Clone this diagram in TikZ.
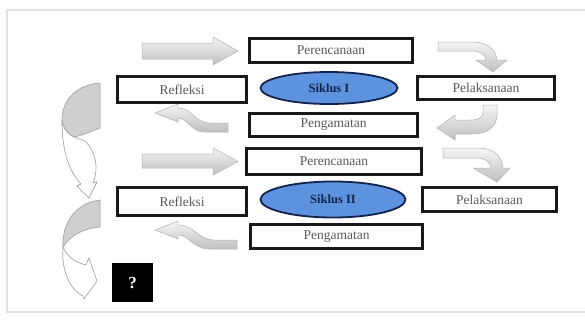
\documentclass[tikz,border=0pt]{standalone}
\usepackage{fontspec}
\setmainfont{Liberation Serif}
\usetikzlibrary{shapes.geometric}
\begin{document}
\begin{tikzpicture}[x=1pt,y=-1pt,
  box/.style={draw=black!90, line width=2.2pt, fill=white, inner sep=0pt,
    font=\fontsize{13.5}{13.5}\selectfont, text=black!65},
  cyclenode/.style={ellipse, draw={rgb,255:red,20;green,35;blue,75}, line width=1.8pt,
    fill={rgb,255:red,92;green,146;blue,222}, inner sep=0pt,
    font=\bfseries\fontsize{12.5}{12.5}\selectfont, text={rgb,255:red,20;green,35;blue,75}},
  garrow/.style={draw=gray!60, line width=0.5pt, top color=gray!8, bottom color=gray!50},
  bigarrow/.style={draw=gray!70, line width=0.7pt},
  backface/.style={bigarrow, fill=gray!38},
  frontface/.style={bigarrow, fill=white}]
\useasboundingbox (0,0) rectangle (585,322);
\fill[white] (0,0) rectangle (585,322);
\draw[gray!22, line width=1.6pt] (600,10) -- (7,10) -- (7,312) -- (600,312);

% boxes
\node[box, minimum width=163pt, minimum height=24pt] (per1) at (331,50.5) {Perencanaan};
\node[box, minimum width=129pt, minimum height=26pt] (ref1) at (182,89.5) {Refleksi};
\node[cyclenode, minimum width=137pt, minimum height=32pt] (sik1) at (329,88) {Siklus I};
\node[box, minimum width=137pt, minimum height=23pt] (pel1) at (486,88) {Pelaksanaan};
\node[box, minimum width=168pt, minimum height=23pt] (pen1) at (333.5,125) {Pengamatan};
\node[box, minimum width=175pt, minimum height=26pt] (per2) at (334,161.5) {Perencanaan};
\node[box, minimum width=129pt, minimum height=28pt] (ref2) at (182,201.5) {Refleksi};
\node[cyclenode, minimum width=145pt, minimum height=36pt] (sik2) at (333,199.5) {Siklus II};
\node[box, minimum width=134pt, minimum height=24pt] (pel2) at (489.5,199.5) {Pelaksanaan};
\node[box, minimum width=172pt, minimum height=24pt] (pen2) at (336.5,236.5) {Pengamatan};
\node[fill=black, minimum width=41pt, minimum height=39pt, inner sep=0pt, text=white,
  font=\bfseries\fontsize{17}{17}\selectfont] (q) at (132.5,282.5) {?};

% straight block arrows into Perencanaan
\draw[garrow] (142,43) -- (213,43) -- (213,37) -- (238,51) -- (213,65) -- (213,59) -- (142,59) -- cycle;
\draw[garrow] (142,154) -- (213,154) -- (213,148) -- (238,161.5) -- (213,175) -- (213,168) -- (142,168) -- cycle;

% Perencanaan -> Pelaksanaan (curved)
\draw[garrow] (438,42) -- (472,42) .. controls (488,42) and (496,50) .. (497,60)
  -- (507,60) -- (493,72) -- (476,60) -- (486,60)
  .. controls (485,54) and (480,51) .. (472,51) -- (438,51) -- cycle;
\draw[garrow] (443,148) -- (477,148) .. controls (495,148) and (502,157) .. (503,168)
  -- (510,168) -- (497,182) -- (473,168) -- (491,168)
  .. controls (490,162) and (485,158) .. (477,158) -- (443,158) -- cycle;

% Pelaksanaan -> Pengamatan (curved)
\draw[garrow] (483,105) -- (483,113) .. controls (483,118) and (478,120) .. (470,120)
  -- (455,120) -- (455,115) -- (437,128) -- (455,140) -- (455,134) -- (472,134)
  .. controls (488,134) and (497,126) .. (497,115) -- (497,105) -- cycle;

% Pengamatan -> Refleksi (curved)
\draw[garrow] (228,123) -- (210,123) .. controls (195,123) and (192,108) .. (178,108)
  -- (178,104) -- (155,113) -- (178,122) -- (178,118)
  .. controls (188,118) and (190,132) .. (205,132) -- (228,132) -- cycle;
\draw[garrow] (237,240) -- (215,240) .. controls (197,240) and (195,225) .. (178,225)
  -- (178,221) -- (155,230) -- (178,239) -- (178,235)
  .. controls (190,235) and (192,249) .. (210,249) -- (237,249) -- cycle;

% big curved arrow, cycle I -> cycle II
\draw[backface] (100,83) .. controls (76,85) and (62,100) .. (62,120)
  .. controls (63,128) and (68,135) .. (74,137)
  .. controls (84,135) and (92,131) .. (100,128) -- cycle;
\draw[frontface] (62,120) .. controls (62,150) and (68,170) .. (81,184)
  -- (77,186) -- (89,198) -- (97,182) -- (93,183)
  .. controls (99,168) and (96,152) .. (85,141) -- (74,137)
  .. controls (68,135) and (63,128) .. (62,120) -- cycle;

% big curved arrow, cycle II -> ?
\draw[backface] (100,200) .. controls (76,203) and (62,222) .. (63,247)
  .. controls (70,235) and (85,228) .. (100,227) -- cycle;
\draw[frontface] (63,247) .. controls (61,270) and (70,290) .. (83,296)
  -- (84,299) -- (97,281) -- (89,258) -- (86,265)
  .. controls (74,262) and (67,256) .. (63,247) -- cycle;
\end{tikzpicture}
\end{document}
